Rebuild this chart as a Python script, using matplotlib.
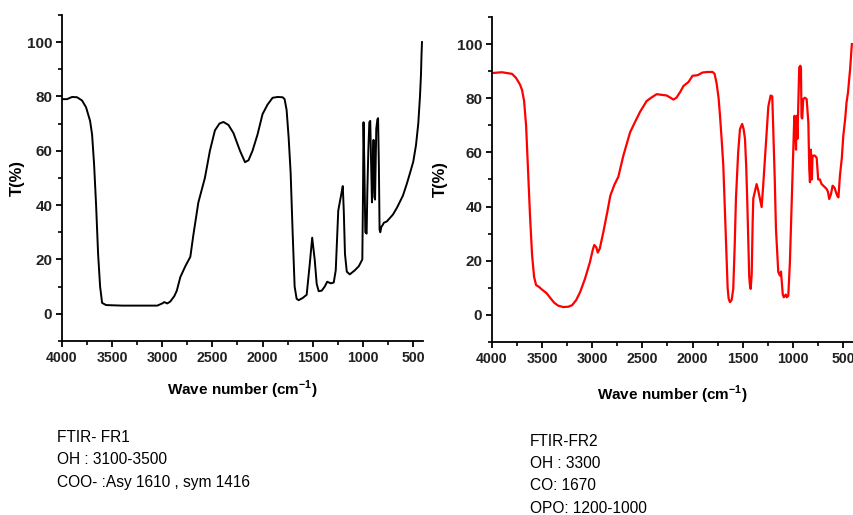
"""
FTIR spectra of FR1 and FR2 side by side, with band assignments below.
"""

import matplotlib
matplotlib.use('Agg')
import matplotlib.pyplot as plt
from matplotlib.ticker import MultipleLocator

# FR1 spectrum (black), wavenumber in cm-1 and transmittance in %
fr1_wn = [4000, 3950, 3900, 3850, 3800, 3760, 3720, 3700, 3680, 3660, 3640, 3620,
          3600, 3560, 3400, 3200, 3050, 3000, 2980, 2950, 2920, 2880, 2855, 2820,
          2770, 2720, 2690, 2640, 2575, 2525, 2475, 2430, 2390, 2340, 2290, 2225,
          2175, 2140, 2100, 2050, 2000, 1950, 1900, 1850, 1800, 1780, 1760, 1740,
          1720, 1700, 1680, 1660, 1640, 1600, 1560, 1530, 1505, 1480, 1460, 1440,
          1410, 1380, 1355, 1320, 1290, 1270, 1245, 1215, 1200, 1190, 1178, 1160,
          1130, 1080, 1040, 1005, 998, 993, 985, 975, 962, 955, 945, 935, 926, 917,
          909, 900, 893, 885, 878, 866, 855, 848, 840, 833, 826, 815, 805, 790, 760,
          700, 660, 600, 560, 520, 497, 470, 447, 430, 420, 415, 410]
fr1_t = [79.0, 79.0, 79.8, 79.7, 78.5, 76, 71, 66, 55, 40, 22, 10,
         4, 3.2, 3.0, 3.0, 3.0, 3.8, 4.3, 3.8, 4.5, 6.5, 8.5, 13.5,
         17.5, 21, 29, 41, 50, 60, 67.5, 70, 70.6, 69.5, 66.5, 60,
         55.8, 56.5, 60, 66, 73.5, 77, 79.5, 79.8, 79.7, 79, 75, 65,
         52, 30, 10, 5.5, 5, 5.8, 7, 18, 28, 20, 11, 8.3,
         8.5, 10, 11.8, 11.2, 11.5, 16, 38, 44, 47, 38, 22, 15.5,
         14.5, 16, 17.5, 20, 45, 70.5, 55, 30, 29.5, 45, 60, 70.5, 71, 55,
         41, 55, 64, 43, 42, 68, 71.5, 72, 55, 31, 30, 32, 32.5, 33.5, 34,
         36.5, 39, 43.5, 48, 53, 56, 62, 70, 80, 88, 95, 100]

# FR2 spectrum (red)
fr2_wn = [4000, 3900, 3800, 3760, 3720, 3700, 3680, 3660, 3640, 3620, 3600, 3580,
          3560, 3530, 3500, 3455, 3420, 3380, 3340, 3290, 3240, 3200, 3160, 3120,
          3073, 3023, 2995, 2980, 2960, 2945, 2925, 2890, 2850, 2820, 2780, 2740,
          2690, 2623, 2570, 2523, 2457, 2400, 2357, 2300, 2257, 2220, 2191, 2160,
          2120, 2091, 2040, 2000, 1950, 1900, 1850, 1800, 1780, 1760, 1740, 1726,
          1710, 1693, 1680, 1669, 1660, 1650, 1640, 1627, 1610, 1594, 1580, 1567,
          1545, 1527, 1505, 1490, 1477, 1465, 1455, 1445, 1435, 1428, 1420, 1410,
          1400, 1394, 1375, 1361, 1345, 1328, 1311, 1295, 1278, 1260, 1244, 1221,
          1205, 1195, 1180, 1168, 1145, 1128, 1118, 1112, 1100, 1090, 1070, 1060,
          1045, 1029, 1012, 996, 985, 979, 968, 962, 954, 944, 936, 925, 919, 913,
          906, 896, 880, 862, 845, 836, 829, 820, 815, 810, 803, 780, 762, 747,
          730, 713, 690, 663, 650, 637, 620, 603, 585, 557, 545, 530, 511, 497,
          478, 464, 450, 438, 428, 421, 415, 411]
fr2_t = [89.3, 89.6, 89, 87.5, 85, 83, 79, 70, 53, 36, 22, 14,
         11, 10.3, 9.3, 8, 6.3, 4.5, 3.4, 2.9, 3.0, 3.6, 5.5, 8.5,
         13.3, 19.5, 24, 25.8, 25, 23, 24.5, 30.5, 38, 44, 48, 51,
         58.8, 67.4, 71.5, 75, 79, 80.5, 81.5, 81.2, 81, 80.2, 79.5, 80.2,
         82.5, 84.5, 86, 88.3, 88.5, 89.5, 89.7, 89.7, 89, 85.5, 80, 73.5,
         65, 55, 42, 30, 20, 10, 6, 4.7, 5.5, 9.6, 25, 43,
         60, 68.6, 70.5, 68.5, 65, 55, 43, 28, 14.5, 11, 9.6, 15,
         35, 43, 46, 48.3, 46, 42.8, 39.8, 48, 57.6, 68, 77, 81,
         80.7, 68.6, 50, 31.7, 15.8, 14.5, 16, 13, 7.5, 6.5, 7.5, 6.5,
         7.1, 19.5, 40, 60, 73.5, 73, 61, 73.5, 65, 80, 91.4, 92, 91.4, 73,
         72.5, 79.7, 80.2, 79.7, 71, 54, 49, 61, 55, 50, 58.8, 58.8, 58, 50,
         50, 48.3, 47.5, 46.5, 45.5, 42.8, 44.5, 47.7, 47, 44, 43.4, 51.4, 58, 66,
         72.3, 78.5, 82, 87, 91, 95, 98, 100]

fr1_notes = ['FTIR- FR1', 'OH : 3100-3500', 'COO- :Asy 1610 , sym 1416']
fr2_notes = ['FTIR-FR2', 'OH : 3300', 'CO: 1670', 'OPO: 1200-1000']

plt.rcParams['font.family'] = ['Liberation Sans', 'DejaVu Sans']
plt.rcParams['mathtext.fontset'] = 'custom'
plt.rcParams['mathtext.rm'] = 'Liberation Sans'
plt.rcParams['mathtext.bf'] = 'Liberation Sans:bold'

fig = plt.figure(figsize=(8.54, 5.15), dpi=100)
ax1 = fig.add_axes([0.0726, 0.338, 0.4227, 0.633])
ax2 = fig.add_axes([0.5761, 0.336, 0.4227, 0.631])


def style_axis(ax, xlab_y, ylab_x):
    ax.set_xlim(4000, 400)
    ax.set_ylim(-10, 110)
    ax.xaxis.set_major_locator(MultipleLocator(500))
    ax.xaxis.set_minor_locator(MultipleLocator(250))
    ax.yaxis.set_major_locator(MultipleLocator(20))
    ax.yaxis.set_minor_locator(MultipleLocator(10))
    for side in ['top', 'right']:
        ax.spines[side].set_visible(False)
    for side in ['left', 'bottom']:
        ax.spines[side].set_linewidth(1.3)
    ax.tick_params(which='major', direction='out', length=4, width=1.3, pad=3)
    ax.tick_params(axis='x', which='major', labelsize=10.2)
    ax.tick_params(axis='y', which='major', labelsize=11)
    ax.tick_params(which='minor', direction='out', length=3, width=1.2)
    for lbl in ax.get_xticklabels() + ax.get_yticklabels():
        lbl.set_fontweight('bold')
        lbl.set_color('#222222')
    ax.set_xlabel(r'Wave number (cm$^{\mathbf{-1}}$)', fontsize=11,
                  fontweight='bold')
    ax.set_ylabel('T(%)', fontsize=12, fontweight='bold')
    ax.xaxis.set_label_coords(0.5, xlab_y)
    ax.yaxis.set_label_coords(ylab_x, 0.5)


ax1.plot(fr1_wn, fr1_t, color='black', linewidth=1.4)
style_axis(ax1, -0.115, -0.102)

ax2.plot(fr2_wn, fr2_t, color='red', linewidth=1.6)
style_axis(ax2, -0.128, -0.122)

# band assignments under each spectrum
for i, line in enumerate(fr1_notes):
    fig.text(57 / 854, 1 - (437 + 22.5 * i) / 515, line, fontsize=11.2,
             va='center', ha='left')
for i, line in enumerate(fr2_notes):
    fig.text(530 / 854, 1 - (441 + 22.5 * i) / 515, line, fontsize=11.2,
             va='center', ha='left')

plt.savefig('out.png', dpi=100)
